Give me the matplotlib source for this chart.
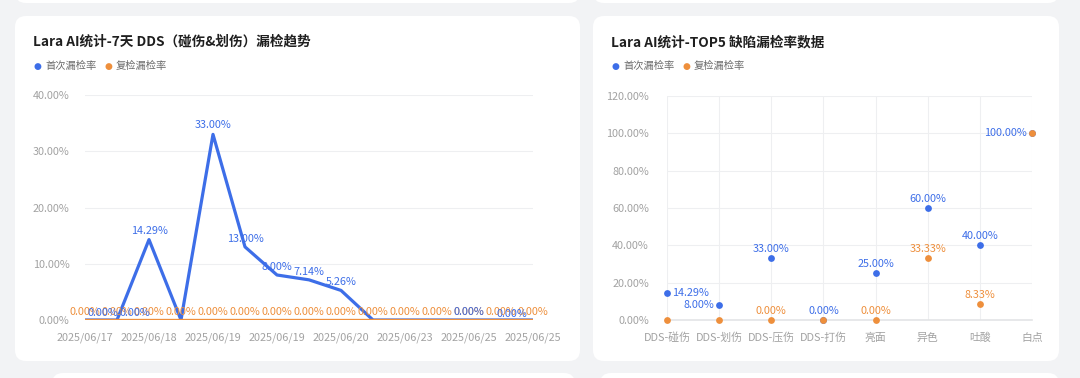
import numpy as np
import matplotlib.pyplot as plt
from matplotlib.patches import FancyBboxPatch

plt.rcParams['font.family'] = ['Noto Sans CJK SC', 'DejaVu Sans']

# ---------------- data ----------------
dates = ['2025/06/17', '2025/06/17', '2025/06/18', '2025/06/18', '2025/06/19',
         '2025/06/19', '2025/06/19', '2025/06/19', '2025/06/20', '2025/06/20',
         '2025/06/23', '2025/06/23', '2025/06/25', '2025/06/25', '2025/06/25']
first_rate = [0, 0, 14.29, 0, 33.00, 13.00, 8.00, 7.14, 5.26, 0, 0, 0, 0, 0, 0]
recheck_rate = [0] * 15

defects = ['DDS-碰伤', 'DDS-划伤', 'DDS-压伤', 'DDS-打伤', '亮面', '异色', '吐酸', '白点']
top_first = [14.29, 8.00, 33.00, 0.00, 25.00, 60.00, 40.00, 100.00]
top_recheck = [0.00, 0.00, 0.00, 0.00, 0.00, 33.33, 8.33, 100.00]

series_names = ['首次漏检率', '复检漏检率']

# ---------------- style ----------------
W, H = 1080, 378
BLUE = '#3d6ee8'
ORANGE = '#ee8f3c'
BG = '#f2f3f5'
GRID = '#eeeff1'
TICK = '#a2a2a2'
PT = 0.72  # points per pixel at dpi 100


def fx(x):
    return x / W


def fy(y):
    return 1 - y / H


fig = plt.figure(figsize=(W / 100, H / 100), dpi=100, facecolor=BG)

# card backgrounds
bg = fig.add_axes([0, 0, 1, 1], zorder=-5)
bg.set_xlim(0, W)
bg.set_ylim(H, 0)
bg.axis('off')
for (x0, y0, x1, y1) in [(15, 16, 580, 361), (593, 16, 1059, 361),
                         (15, -30, 580, 3), (593, -30, 1059, 3),
                         (52, 373, 575, 420), (600, 373, 1059, 420)]:
    bg.add_patch(FancyBboxPatch((x0, y0), x1 - x0, y1 - y0,
                                boxstyle='round,pad=0,rounding_size=11',
                                fc='white', ec='none'))


def header(x, title):
    fig.text(fx(x), fy(42), title, fontsize=9.8, fontweight='semibold',
             color='#1f1f1f', va='center', ha='left')
    lx = x + 4
    for name, col in zip(series_names, [BLUE, ORANGE]):
        fig.text(fx(lx), fy(66), '●', fontsize=6.5, color=col, va='center', ha='center',
                 family='DejaVu Sans')
        fig.text(fx(lx + 8), fy(66), name, fontsize=7.4, color='#6a6a6a',
                 va='center', ha='left')
        lx += 71


header(33, 'Lara AI统计-7天 DDS（碰伤&划伤）漏检趋势')
header(611, 'Lara AI统计-TOP5 缺陷漏检率数据')

# ---------------- left: line chart ----------------
ax = fig.add_axes([fx(85), fy(320), fx(533 - 85), (320 - 95) / H])
x = np.arange(len(dates))
ax.plot(x, first_rate, color=BLUE, lw=2.3, zorder=3)
ax.plot(x, recheck_rate, color=ORANGE, lw=2.4, zorder=4)
ax.set_xlim(0, len(dates) - 1)
ax.set_ylim(0, 40)
ax.set_yticks([0, 10, 20, 30, 40])
ax.set_yticklabels(['%.2f%%' % v for v in [0, 10, 20, 30, 40]])
ax.set_xticks(x[::2])
ax.set_xticklabels(dates[::2])
ax.yaxis.grid(True, color=GRID, lw=0.8)
ax.set_axisbelow(True)
for s in ax.spines.values():
    s.set_visible(False)
ax.tick_params(length=0, labelsize=7.8, labelcolor=TICK)
ax.tick_params(axis='y', pad=11)
ax.tick_params(axis='x', pad=9)
ax.patch.set_alpha(0)

# blue labels: (dx px, dy px) offsets, None = hidden
blue_lab = [(18, 7), (18, 7), (0, 9), None, (0, 9), (0, 8), (0, 8), (0, 8), (0, 8),
            None, None, None, (0, 8), (11, 6), None]
for i, v in enumerate(first_rate):
    if blue_lab[i] is None:
        continue
    dx, dy = blue_lab[i]
    ax.annotate('%.2f%%' % v, (x[i], v), xytext=(dx * PT, dy * PT), textcoords='offset points',
                ha='center', va='center', fontsize=7.8, color=BLUE, zorder=6,
                annotation_clip=False)
for i, v in enumerate(recheck_rate):
    ax.annotate('%.2f%%' % v, (x[i], v), xytext=(0, 8 * PT), textcoords='offset points',
                ha='center', va='center', fontsize=7.8, color=ORANGE, zorder=5,
                annotation_clip=False)

# ---------------- right: scatter chart ----------------
ax2 = fig.add_axes([fx(667), fy(320), fx(1032 - 667), (320 - 96) / H])
c = np.arange(len(defects))
ax2.scatter(c, top_first, s=24, color=BLUE, zorder=4, clip_on=False, linewidths=0)
ax2.scatter(c, top_recheck, s=24, color=ORANGE, zorder=5, clip_on=False, linewidths=0)
ax2.set_xlim(0, len(defects) - 1)
ax2.set_ylim(0, 120)
ax2.set_yticks(np.arange(0, 121, 20))
ax2.set_yticklabels(['%.2f%%' % v for v in np.arange(0, 121, 20)])
ax2.set_xticks(c)
ax2.set_xticklabels(defects)
ax2.grid(True, color=GRID, lw=0.8)
ax2.set_axisbelow(True)
for k, s in ax2.spines.items():
    s.set_visible(k == 'bottom')
ax2.spines['bottom'].set_color('#e3e4e6')
ax2.spines['bottom'].set_linewidth(1.2)
ax2.tick_params(length=0, labelsize=7.8, labelcolor=TICK)
ax2.tick_params(axis='y', pad=13)
ax2.tick_params(axis='x', pad=9)
ax2.patch.set_alpha(0)

# label placement per point
first_pos = ['right', 'left', 'top', 'top', 'top', 'top', 'top', 'left']
recheck_pos = [None, None, 'top', None, 'top', 'top', 'top', None]


def place(axis, xs, ys, pos, col):
    for xi, yi, p in zip(xs, ys, pos):
        if p is None:
            continue
        if p == 'top':
            off, ha = (0, 9 * PT), 'center'
        elif p == 'left':
            off, ha = (-5 * PT, 0), 'right'
        else:
            off, ha = (5 * PT, 0), 'left'
        axis.annotate('%.2f%%' % yi, (xi, yi), xytext=off, textcoords='offset points',
                      ha=ha, va='center', fontsize=7.8, color=col, zorder=6,
                      annotation_clip=False)


place(ax2, c, top_first, first_pos, BLUE)
place(ax2, c, top_recheck, recheck_pos, ORANGE)

fig.savefig('out.png', dpi=100, facecolor=BG)
